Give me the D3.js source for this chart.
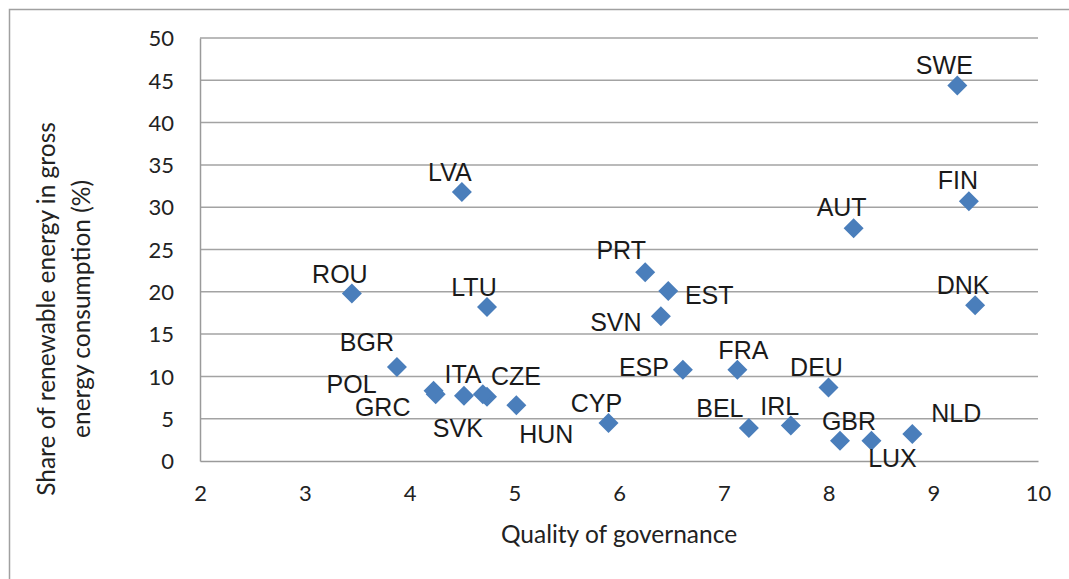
<!DOCTYPE html>
<html>
<head>
<meta charset="utf-8">
<script src="https://cdn.jsdelivr.net/npm/d3@7"></script>
<style>
  body { margin: 0; background: #fff; }
  svg { display: block; }
  .tick-label { font-family: Lato, "Open Sans", sans-serif; font-size: 22px; fill: #222; }
  .axis-title { font-family: Lato, "Open Sans", sans-serif; font-size: 24.5px; fill: #222; }
  .pt-label { font-family: "Liberation Sans", Arial, sans-serif; font-size: 25px; fill: #1a1a1a; }
</style>
</head>
<body>
<div id="chart"></div>
<script>
// countries (ISO codes) and their values
var countries = ['SWE','FIN','AUT','DNK','LVA','PRT','EST','SVN','LTU','ROU','BGR','POL','GRC',
    'ITA','CZE','SVK','HUN','CYP','ESP','FRA','DEU','BEL','IRL','GBR','LUX','NLD'];
var governance = [9.23,9.34,8.24,9.40,4.50,6.25,6.47,6.40,4.74,3.45,3.88,4.23,4.25,
    4.52,4.74,4.70,5.02,5.90,6.61,7.13,8.00,7.24,7.64,8.11,8.41,8.80];
var renewables = [44.4,30.7,27.5,18.4,31.8,22.3,20.1,17.1,18.2,19.8,11.1,8.3,7.9,
    7.7,7.6,7.9,6.6,4.5,10.8,10.8,8.7,3.9,4.2,2.4,2.4,3.2];

var xTicks = [2,3,4,5,6,7,8,9,10];
var yTicks = [0,5,10,15,20,25,30,35,40,45,50];

// where each data label sits relative to its marker (px)
var labelOffset = {
    SWE:[-13,-11], FIN:[-11,-12], AUT:[-12,-12], DNK:[-12,-11], LVA:[-12,-11],
    PRT:[-24,-13], EST:[41,13], SVN:[-45,15], LTU:[-13,-11], ROU:[-12,-10],
    BGR:[-30,-16], POL:[-82,2], GRC:[-53,22], ITA:[-1,-13], CZE:[29,-12],
    SVK:[-25,43], HUN:[30,38], CYP:[-12,-11], ESP:[-39,6], FRA:[6,-11],
    DEU:[-12,-11], BEL:[-29,-11], IRL:[-11,-10], GBR:[9,-11], LUX:[21,26], NLD:[44,-12]
};

var width = 1069, height = 579;

var svg = d3.select('#chart')
    .append('svg')
    .attr('width', width)
    .attr('height', height);

// outer chart frame
svg.append('rect')
    .attr('x', 9.5).attr('y', 9.5)
    .attr('width', width).attr('height', height)
    .attr('fill', 'none')
    .attr('stroke', '#a0a0a0')
    .attr('stroke-width', 1.5);

var x = d3.scaleLinear().domain([2,10]).range([200,1038]);
var y = d3.scaleLinear().domain([0,50]).range([461,38]);

// gridlines
svg.append('g')
    .selectAll('line')
    .data(yTicks.filter(function(d){ return d > 0; }))
    .join('line')
    .attr('x1', x(2)).attr('x2', x(10))
    .attr('y1', function(d){ return y(d); })
    .attr('y2', function(d){ return y(d); })
    .attr('stroke', '#a3a3a3')
    .attr('stroke-width', 1.5);

// axes
var xAxis = svg.append('g')
    .attr('transform', `translate(0,${y(0)})`)
    .call(d3.axisBottom(x).tickValues(xTicks).tickSize(0).tickPadding(24));
var yAxis = svg.append('g')
    .attr('transform', `translate(${x(2)},0)`)
    .call(d3.axisLeft(y).tickValues(yTicks).tickSize(0).tickPadding(26));

[xAxis, yAxis].forEach(function(a){
    a.select('.domain').attr('stroke', '#9a9a9a').attr('stroke-width', 1.5);
    a.selectAll('text').attr('class', 'tick-label').attr('font-size', null).attr('font-family', null);
});
yAxis.selectAll('text').attr('dy', '0.35em');

// axis titles
svg.append('text')
    .attr('class', 'axis-title')
    .attr('x', 619).attr('y', 543)
    .attr('text-anchor', 'middle')
    .text('Quality of governance');

var yTitle = svg.append('g')
    .attr('transform', 'translate(47,309)rotate(-90)');
yTitle.append('text')
    .attr('class', 'axis-title')
    .attr('text-anchor', 'middle')
    .attr('y', 8)
    .text('Share of renewable energy in gross');
yTitle.append('text')
    .attr('class', 'axis-title')
    .attr('text-anchor', 'middle')
    .attr('y', 43)
    .text('energy consumption (%)');

var points = countries.map(function(c, i){
    return { code: c, gov: governance[i], ren: renewables[i] };
});

// markers
svg.append('g')
    .selectAll('path')
    .data(points)
    .join('path')
    .attr('d', d3.symbol().type(d3.symbolSquare).size(200))
    .attr('transform', function(d){ return `translate(${x(d.gov)},${y(d.ren)})rotate(45)`; })
    .attr('fill', '#4a7ebb');

// data labels
svg.append('g')
    .selectAll('text')
    .data(points)
    .join('text')
    .attr('class', 'pt-label')
    .attr('text-anchor', 'middle')
    .attr('x', function(d){ return x(d.gov) + labelOffset[d.code][0]; })
    .attr('y', function(d){ return y(d.ren) + labelOffset[d.code][1]; })
    .text(function(d){ return d.code; });
</script>
</body>
</html>
